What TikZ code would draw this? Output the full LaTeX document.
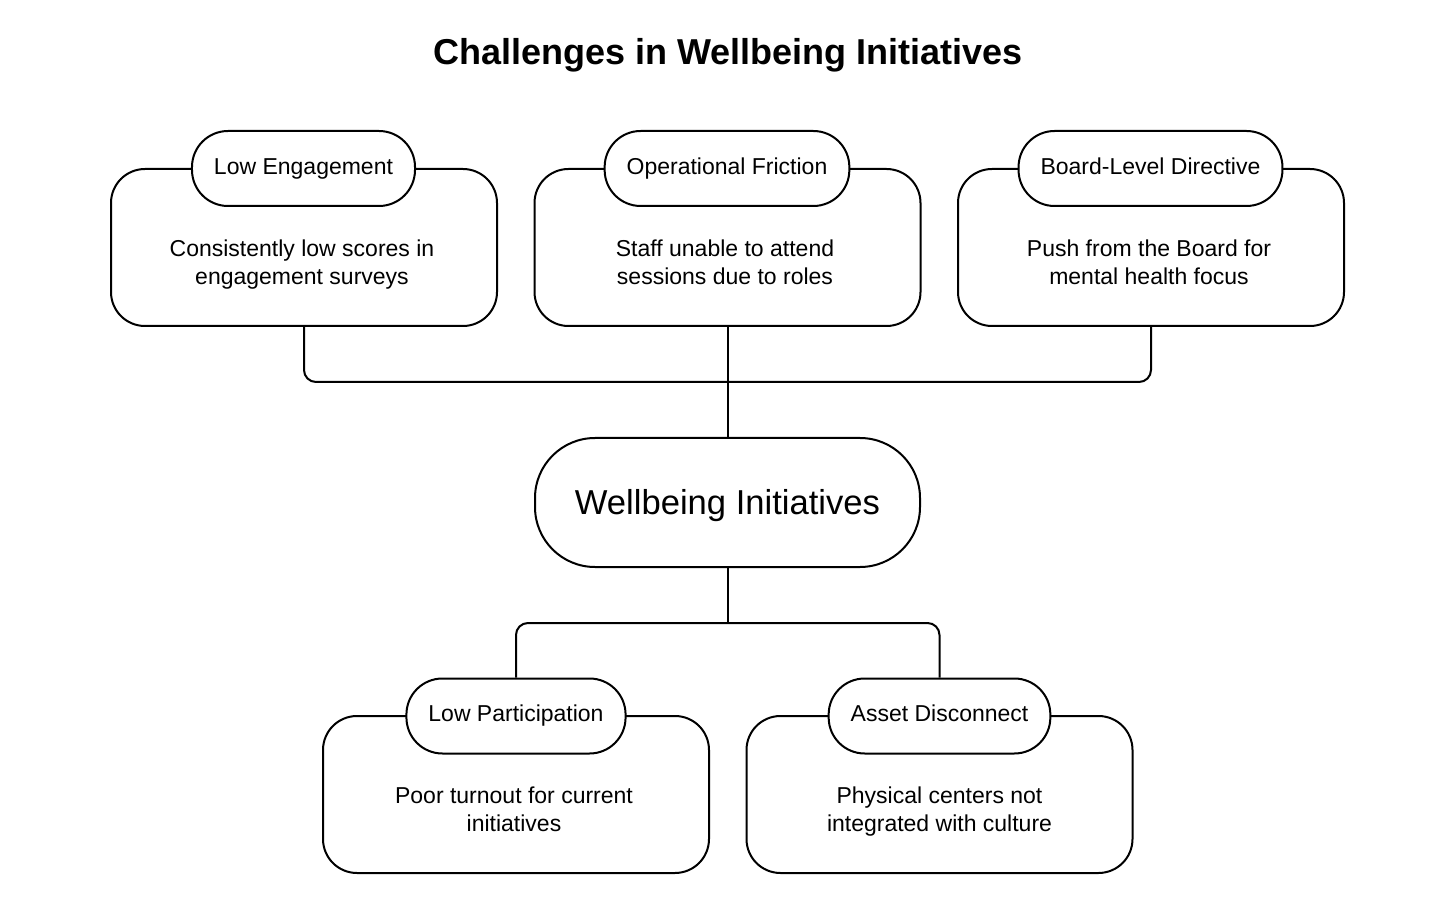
\documentclass[tikz,border=0pt]{standalone}
\usepackage{fontspec}
\setmainfont{Liberation Sans}
\usetikzlibrary{positioning}

\begin{document}
\begin{tikzpicture}[x=0.5pt,y=-0.5pt,
  bodybox/.style={draw,line width=1pt,rounded corners=17pt,minimum width=193pt,minimum height=78.5pt,inner sep=0pt},
  tagpill/.style={draw,fill=white,line width=1pt,rounded corners=18pt,minimum height=37.5pt,inner xsep=11pt,font=\fontsize{11.5}{14}\selectfont,execute at begin node=\strut},
  bodytext/.style={align=center,font=\fontsize{11.5}{14}\selectfont},
  link/.style={line width=1pt,rounded corners=6pt}]
\useasboundingbox (0,0) rectangle (1456,914);
\node[font=\fontsize{18}{22}\selectfont\bfseries] (title) at (728,55) {Challenges in Wellbeing Initiatives};
% top row
\node[bodybox] (le box) at (304,247.5) {};
\node[bodybox] (of box) at (727.5,247.5) {};
\node[bodybox] (bd box) at (1151,247.5) {};
\node[bodytext] (le text) at (302,264.5) {Consistently low scores in\strut\\engagement surveys\strut};
\node[bodytext] (of text) at (725,264.5) {Staff unable to attend\strut\\sessions due to roles\strut};
\node[bodytext] (bd text) at (1149,264.5) {Push from the Board for\strut\\mental health focus\strut};
\node[tagpill] (le pill) at (303.5,168.5) {Low Engagement};
\node[tagpill] (of pill) at (727,168.5) {Operational Friction};
\node[tagpill] (bd pill) at (1150.5,168.5) {Board-Level Directive};
% centre
\node[draw,line width=1pt,rounded corners=30pt,minimum width=192.5pt,minimum height=64.5pt,text height=13pt,text depth=1pt,font=\fontsize{17.3}{20}\selectfont] (ctr) at (727.5,502.5) {Wellbeing Initiatives};
% bottom row
\node[bodybox] (lp box) at (516,794.5) {};
\node[bodybox] (ad box) at (939.5,794.5) {};
\node[bodytext] (lp text) at (514,811.5) {Poor turnout for current\strut\\initiatives\strut};
\node[bodytext] (ad text) at (939.5,811.5) {Physical centers not\strut\\integrated with culture\strut};
\node[tagpill] (lp pill) at (516,716) {Low Participation};
\node[tagpill] (ad pill) at (939.5,716) {Asset Disconnect};
% connectors
\coordinate (top bus) at (727.5,382);
\coordinate (bot bus) at (727.5,623);
\draw[link] (le box.south) |- (top bus) -| (bd box.south);
\draw[link] (of box.south) -- (ctr.north);
\draw[link] (ctr.south) -- (bot bus);
\draw[link] (lp pill.north) |- (bot bus) -| (ad pill.north);
\end{tikzpicture}
\end{document}
